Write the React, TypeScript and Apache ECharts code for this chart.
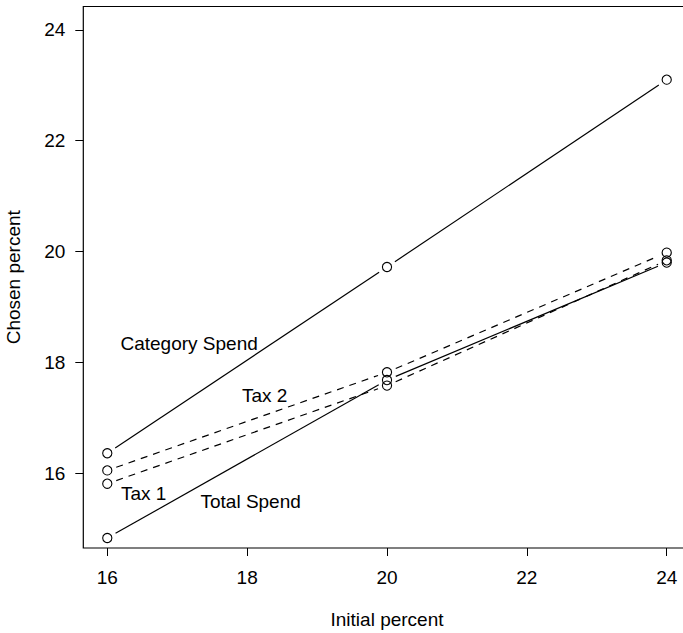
import React, { useEffect, useRef } from "react";
import * as echarts from "echarts";

const xValues = [16, 20, 24];
const categorySpend = [16.36, 19.72, 23.1];
const tax2 = [16.05, 17.82, 19.98];
const tax1 = [15.81, 17.58, 19.84];
const totalSpend = [14.83, 17.68, 19.8];

const xTicks = [16, 18, 20, 22, 24];
const yTicks = [16, 18, 20, 22, 24];

const labelNames = ["Category Spend", "Tax 2", "Tax 1", "Total Spend"];
const labelX = [17.17, 18.25, 16.52, 18.05];
const labelY = [18.34, 17.41, 15.63, 15.49];

const FONT = "Liberation Sans, Arial, Helvetica, sans-serif";
const FS = 19;

function makeSeries(name: string, ys: number[], dashed: boolean) {
  return {
    type: "custom",
    name,
    silent: true,
    data: xValues.map((x, i) => [x, ys[i]]),
    renderItem: (params: any, api: any) => {
      const i = params.dataIndex;
      const p = api.coord([api.value(0), api.value(1)]);
      const children: any[] = [
        {
          type: "circle",
          shape: { cx: p[0], cy: p[1], r: 4.6 },
          style: { fill: "none", stroke: "#000", lineWidth: 1.1 },
        },
      ];
      if (i < ys.length - 1) {
        const q = api.coord([xValues[i + 1], ys[i + 1]]);
        const dx = q[0] - p[0];
        const dy = q[1] - p[1];
        const len = Math.hypot(dx, dy);
        const g = 9.5;
        children.push({
          type: "line",
          shape: {
            x1: p[0] + (dx / len) * g,
            y1: p[1] + (dy / len) * g,
            x2: q[0] - (dx / len) * g,
            y2: q[1] - (dy / len) * g,
          },
          style: {
            stroke: "#000",
            lineWidth: 1.2,
            lineDash: dashed ? [7, 6] : null,
          },
        });
      }
      return { type: "group", children };
    },
  };
}

export default function App() {
  const ref = useRef<HTMLDivElement>(null);
  useEffect(() => {
    if (!ref.current) return;
    const chart = echarts.init(ref.current, null, { renderer: "svg" });
    chart.setOption({
      animation: false,
      backgroundColor: "#fff",
      grid: {
        left: 83.3,
        top: 6.5,
        width: 607.4,
        height: 541.5,
        containLabel: false,
        outerBoundsMode: "none",
        show: true,
        borderColor: "#000",
        borderWidth: 1.2,
        backgroundColor: "transparent",
      },
      xAxis: {
        type: "value",
        min: 15.657,
        max: 24.343,
        name: "Initial percent",
        nameLocation: "middle",
        nameGap: 62,
        nameTextStyle: { color: "#000", fontSize: FS, fontFamily: FONT },
        axisLine: { show: false },
        splitLine: { show: false },
        axisTick: {
          show: true,
          inside: false,
          length: 8,
          customValues: xTicks,
          lineStyle: { color: "#000", width: 1 },
        },
        axisLabel: {
          customValues: xTicks,
          margin: 20,
          color: "#000",
          fontSize: FS,
          fontFamily: FONT,
        },
      },
      yAxis: {
        type: "value",
        min: 14.65,
        max: 24.42,
        name: "Chosen percent",
        nameLocation: "middle",
        nameGap: 60,
        nameRotate: 90,
        nameTextStyle: { color: "#000", fontSize: FS, fontFamily: FONT },
        axisLine: { show: false },
        splitLine: { show: false },
        axisTick: {
          show: true,
          inside: false,
          length: 8,
          customValues: yTicks,
          lineStyle: { color: "#000", width: 1 },
        },
        axisLabel: {
          customValues: yTicks,
          margin: 18,
          color: "#000",
          fontSize: FS,
          fontFamily: FONT,
        },
      },
      series: [
        makeSeries("Category Spend", categorySpend, false),
        makeSeries("Tax 2", tax2, true),
        makeSeries("Tax 1", tax1, true),
        makeSeries("Total Spend", totalSpend, false),
        {
          type: "custom",
          silent: true,
          data: labelNames.map((n, i) => ({ name: n, value: [labelX[i], labelY[i]] })),
          renderItem: (params: any, api: any) => {
            const p = api.coord([api.value(0), api.value(1)]);
            return {
              type: "text",
              x: p[0],
              y: p[1],
              style: {
                text: labelNames[params.dataIndex],
                fill: "#000",
                font: `${FS}px ${FONT}`,
                align: "center",
                verticalAlign: "middle",
              },
            };
          },
        },
      ],
    });
    return () => chart.dispose();
  }, []);
  return (
    <div
      style={{
        position: "fixed",
        left: 0,
        top: 0,
        width: 683,
        height: 633,
        overflow: "hidden",
        background: "#fff",
      }}
    >
      <div ref={ref} style={{ width: 700, height: 633 }} />
    </div>
  );
}
